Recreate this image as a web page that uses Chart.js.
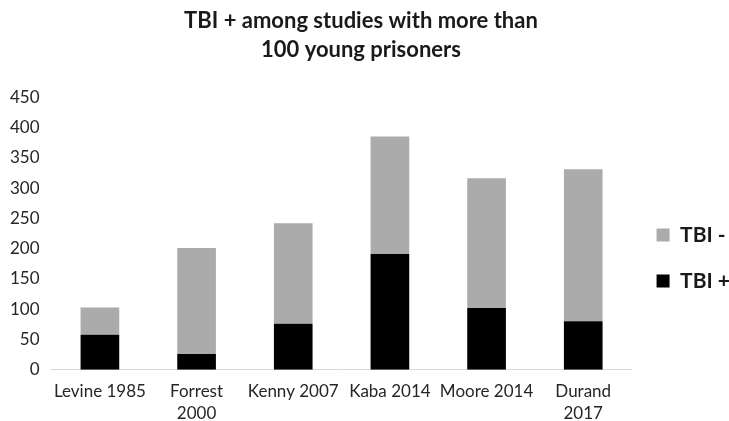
<!DOCTYPE html>
<html>
<head>
<meta charset="utf-8">
<script src="https://cdn.jsdelivr.net/npm/chart.js@4/dist/chart.umd.min.js"></script>
<style>
html,body{margin:0;padding:0;background:#fff;}
#wrap{width:729px;height:421px;position:relative;}
</style>
</head>
<body>
<div id="wrap"><canvas id="c"></canvas></div>
<script>
const categories = [
  'Levine 1985',
  ['Forrest', '2000'],
  'Kenny 2007',
  'Kaba 2014',
  'Moore 2014',
  ['Durand', '2017']
];
const tbiPositive = [58, 26, 76, 191, 102, 80];
const tbiNegative = [45, 175, 166, 194, 214, 251];
const titleLines = ['TBI + among studies with more than\u00a0\u00a0\u00a0', '100 young prisoners\u00a0\u00a0\u00a0'];
const seriesNames = ['TBI +', 'TBI -'];

const FONT = 'Lato';

new Chart(document.getElementById('c'), {
  type: 'bar',
  data: {
    labels: categories,
    datasets: [
      { label: seriesNames[0], data: tbiPositive, backgroundColor: '#000000', borderWidth: 0 },
      { label: seriesNames[1], data: tbiNegative, backgroundColor: '#ababab', borderWidth: 0 }
    ]
  },
  options: {
    responsive: true,
    maintainAspectRatio: false,
    animation: false,
    devicePixelRatio: 1,
    layout: { padding: { left: -2, right: -11, top: 0, bottom: -7 } },
    datasets: { bar: { categoryPercentage: 1.0, barPercentage: 0.4 } },
    plugins: {
      title: {
        display: true,
        text: titleLines,
        color: '#1a1a1a',
        font: { family: FONT, size: 22, weight: 'bold', lineHeight: 1.3 },
        padding: { top: 7, bottom: 33 }
      },
      legend: {
        position: 'right',
        reverse: true,
        title: { display: true, text: ' ', font: { size: 12, lineHeight: 1.2 }, padding: { top: 0, bottom: 73.6 } },
        labels: {
          boxWidth: 13,
          boxHeight: 13,
          padding: 25,
          color: '#1a1a1a',
          font: { family: FONT, size: 21, weight: 'bold' }
        }
      },
      tooltip: { enabled: false }
    },
    scales: {
      x: {
        stacked: true,
        grid: { display: false },
        border: { display: true, color: '#d9d9d9', width: 1 },
        ticks: { color: '#262626', font: { family: FONT, size: 17, lineHeight: 1.3 }, maxRotation: 0, autoSkip: false, padding: 3 }
      },
      y: {
        stacked: true,
        min: 0,
        max: 450,
        grid: { display: false, drawTicks: false },
        border: { display: false },
        ticks: { stepSize: 50, color: '#262626', font: { family: FONT, size: 17 }, padding: 12 }
      }
    }
  }
});
</script>
</body>
</html>
